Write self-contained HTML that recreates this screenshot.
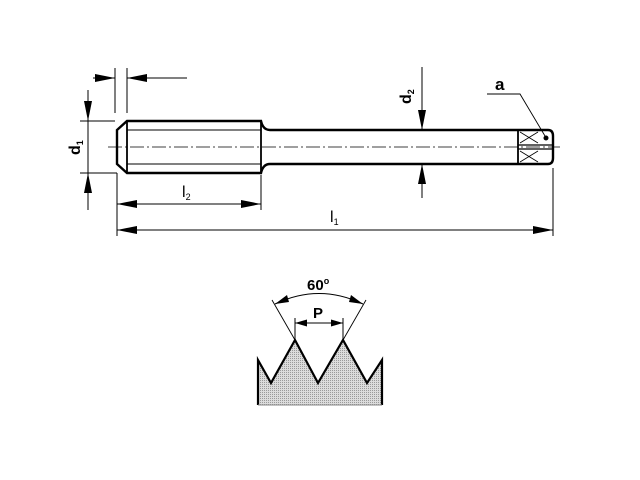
<!DOCTYPE html>
<html><head><meta charset="utf-8"><style>html,body{margin:0;padding:0;background:#fff}svg{display:block}</style></head>
<body>
<svg width="640" height="480" viewBox="0 0 640 480" xmlns="http://www.w3.org/2000/svg" font-family="Liberation Sans, sans-serif">
<defs>
<pattern id="dots" width="2" height="2" patternUnits="userSpaceOnUse"><rect width="2" height="2" fill="#dcdcdc"/><rect width="1" height="1" fill="#9a9a9a"/></pattern>
<marker id="ar" viewBox="0 0 20 8" refX="20" refY="4" markerWidth="20" markerHeight="8" orient="auto" markerUnits="userSpaceOnUse"><path d="M0,0 L20,4 L0,8z" fill="#000"/></marker>
<marker id="as" viewBox="0 0 12 7" refX="12" refY="3.5" markerWidth="12" markerHeight="7" orient="auto" markerUnits="userSpaceOnUse"><path d="M0,0 L12,3.5 L0,7z" fill="#000"/></marker>
</defs>
<g stroke="#000" fill="none">
<path d="M127,121 L261,121 Q263,130 270,130 L548,130 Q553,130 553,136 L553,158 Q553,164 548,164 L270,164 Q263,164 261,173 L127,173 L117,164 L117,130 Z" stroke-width="2.4" fill="#fff"/>
<line x1="127" y1="121" x2="127" y2="173" stroke-width="1.8"/>
<line x1="261" y1="121" x2="261" y2="173" stroke-width="1.8"/>
<line x1="127" y1="130" x2="261" y2="130" stroke-width="0.9"/>
<line x1="127" y1="164" x2="261" y2="164" stroke-width="0.9"/>
<line x1="518" y1="130" x2="518" y2="164" stroke-width="1.8"/>
<line x1="518" y1="145" x2="553" y2="145" stroke-width="1.2"/>
<line x1="518" y1="149" x2="553" y2="149" stroke-width="1.2"/>
<path d="M520,132 L538,143 M538,132 L520,143 M520,151 L538,162 M538,151 L520,162" stroke-width="0.8"/>
<circle cx="546" cy="138" r="2" fill="#000"/>
<line x1="108" y1="147" x2="560" y2="147" stroke-width="0.8" stroke-dasharray="14,3,2,3"/>
<line x1="115" y1="68" x2="115" y2="113" stroke-width="1"/>
<line x1="127" y1="68" x2="127" y2="113" stroke-width="1"/>
<line x1="93" y1="78" x2="115" y2="78" stroke-width="1" marker-end="url(#ar)"/>
<line x1="187" y1="78" x2="127" y2="78" stroke-width="1" marker-end="url(#ar)"/>
<line x1="80" y1="121" x2="115" y2="121" stroke-width="1"/>
<line x1="80" y1="173" x2="117" y2="173" stroke-width="1"/>
<line x1="88" y1="90" x2="88" y2="121" stroke-width="1" marker-end="url(#ar)"/>
<line x1="88" y1="210" x2="88" y2="173" stroke-width="1" marker-end="url(#ar)"/>
<line x1="88" y1="121" x2="88" y2="173" stroke-width="1"/>
<line x1="422" y1="67" x2="422" y2="130" stroke-width="1" marker-end="url(#ar)"/>
<line x1="422" y1="198" x2="422" y2="164" stroke-width="1" marker-end="url(#ar)"/>
<line x1="117" y1="173" x2="117" y2="236" stroke-width="1"/>
<line x1="261" y1="175" x2="261" y2="210" stroke-width="1"/>
<line x1="553" y1="168" x2="553" y2="236" stroke-width="1"/>
<line x1="189" y1="204" x2="117" y2="204" stroke-width="1" marker-end="url(#ar)"/>
<line x1="189" y1="204" x2="261" y2="204" stroke-width="1" marker-end="url(#ar)"/>
<line x1="335" y1="230" x2="117" y2="230" stroke-width="1" marker-end="url(#ar)"/>
<line x1="335" y1="230" x2="553" y2="230" stroke-width="1" marker-end="url(#ar)"/>
<path d="M487,94 L520,94 L545,136" stroke-width="0.9"/>
<path d="M258,405 L258,360 L271,383 L295,340 L318,383 L343,340 L367,383 L382,360 L382,405 Z" fill="url(#dots)" stroke="none"/>
<path d="M258,405 L258,360 L271,383 L295,340 L318,383 L343,340 L367,383 L382,360 L382,405" stroke-width="2.2" fill="none"/>
<path d="M258,405 L382,405" stroke="#888" stroke-width="1"/>
<line x1="295" y1="340" x2="272" y2="300" stroke-width="0.9"/>
<line x1="343" y1="340" x2="366" y2="300" stroke-width="0.9"/>
<path d="M275,304 Q319,283 363,304" stroke-width="1"/>
<path d="M275,304 l12,-9 l2,7z M363,304 l-12,-9 l-2,7z" fill="#000" stroke="none"/>
<line x1="295" y1="318" x2="295" y2="340" stroke-width="1"/>
<line x1="343" y1="318" x2="343" y2="340" stroke-width="1"/>
<line x1="319" y1="323" x2="295" y2="323" stroke-width="1" marker-end="url(#as)"/>
<line x1="319" y1="323" x2="343" y2="323" stroke-width="1" marker-end="url(#as)"/>
</g>
<g fill="#000" font-weight="bold">
<text x="0" y="0" font-size="16" transform="translate(80,155) rotate(-90)">d<tspan font-size="9" dy="3">1</tspan></text>
<text x="0" y="0" font-size="16" transform="translate(411,104) rotate(-90)">d<tspan font-size="9" dy="3">2</tspan></text>
<text x="182" y="197" font-size="16" font-weight="normal">l<tspan font-size="9" dy="3">2</tspan></text>
<text x="330" y="222" font-size="16" font-weight="normal">l<tspan font-size="9" dy="3">1</tspan></text>
<text x="495" y="90" font-size="17">a</text>
<text x="307" y="290" font-size="15">60<tspan font-size="9" dy="-6">o</tspan></text>
<text x="313" y="318" font-size="15">P</text>
</g>
</svg>
</body></html>
